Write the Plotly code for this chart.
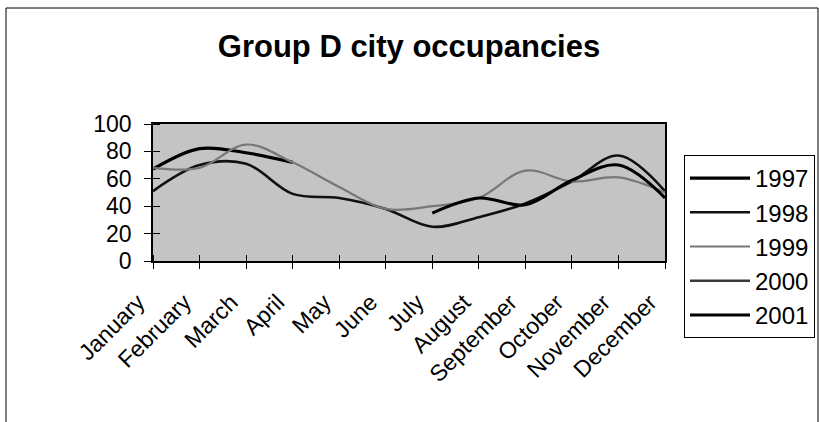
import plotly.graph_objects as go

months = ["January", "February", "March", "April", "May", "June", "July",
          "August", "September", "October", "November", "December"]
years = ["1997", "1998", "1999", "2000", "2001"]

s1997 = [67, 82, 79, 72, None, None, None, None, None, None, None, None]
s1998 = [51, 70, 71, 49, 46, 38, 25, 32, 42, 58, 77, 51]
s1999 = [68, 68, 85, 72, 54, 38, 40, 46, 66, 58, 61, 50]
s2000 = [None] * 12
s2001 = [None, None, None, None, None, None, 35, 46, 41, 59, 70, 46]
series = [s1997, s1998, s1999, s2000, s2001]

y_ticks = [0, 20, 40, 60, 80, 100]

styles = [
    dict(color="#000000", width=3.2),
    dict(color="#111111", width=2.6),
    dict(color="#777777", width=2.2),
    dict(color="#3a3a3a", width=2.4),
    dict(color="#000000", width=3.0),
]

fig = go.Figure()
for name, vals, st in zip(years, series, styles):
    fig.add_trace(go.Scatter(
        x=months, y=vals, name=name, mode="lines",
        line=dict(shape="spline", smoothing=1.0, **st),
        connectgaps=False, legendgroup=name,
    ))

FONT = "Arial, Liberation Sans, sans-serif"

fig.update_layout(
    width=819, height=422,
    margin=dict(l=153, r=154, t=124, b=161, autoexpand=False),
    paper_bgcolor="white",
    plot_bgcolor="#c4c4c4",
    font=dict(family=FONT, size=23, color="black"),
    title=dict(text="<b>Group D city occupancies</b>", x=0.5, xanchor="center",
               xref="paper", y=1 - 46 / 422, yref="container", yanchor="middle",
               font=dict(family=FONT, size=31, color="black")),
    showlegend=True,
    legend=dict(x=(684 - 153) / 512, xanchor="left", y=(261 - 155) / 137, yanchor="top",
                bordercolor="black", borderwidth=1, bgcolor="white",
                font=dict(family=FONT, size=24, color="black"),
                tracegroupgap=7, itemwidth=60, traceorder="normal",
                maxheight=400),
    xaxis=dict(type="category", range=[0, 11], showgrid=False, automargin=False,
               showline=True, linecolor="black", linewidth=1.5, mirror=True,
               ticks="outside", ticklen=6, tickcolor="black", tickangle=-45,
               ticklabelshift=-15, ticklabelstandoff=11,
               minor=dict(ticks="inside", ticklen=6, tickcolor="black",
                          tickvals=list(range(len(months)))),
               tickfont=dict(family=FONT, size=23, color="black")),
    yaxis=dict(range=[0, 100], tickvals=y_ticks, showgrid=False, zeroline=False,
               automargin=False,
               showline=True, linecolor="black", linewidth=1.5, mirror=True,
               ticks="outside", ticklen=7, tickcolor="black",
               ticklabelstandoff=8,
               minor=dict(ticks="inside", ticklen=7, tickcolor="black",
                          tickvals=y_ticks),
               tickfont=dict(family=FONT, size=23, color="black")),
    shapes=[dict(type="rect", xref="paper", yref="paper",
                 x0=(6 - 153) / 512, x1=(818 - 153) / 512,
                 y0=(261 - 440) / 137, y1=(261 - 8) / 137,
                 line=dict(color="black", width=1), layer="below")],
)

fig.write_html("out.html", config={"displayModeBar": False},
               post_script="document.body.style.margin='0';document.body.style.overflow='hidden';")
